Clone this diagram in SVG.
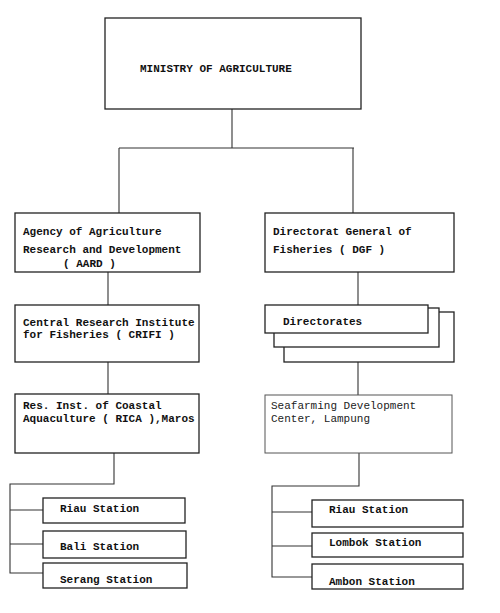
<svg xmlns="http://www.w3.org/2000/svg" width="500" height="613" viewBox="0 0 500 613">
<style>
.b{fill:#fff;stroke:#222;stroke-width:1.3}
.c{fill:none;stroke:#333;stroke-width:1.1}
.t{font-family:"Liberation Mono","DejaVu Sans Mono",monospace;font-size:11px;font-weight:bold;fill:#111}
.l{font-family:"Liberation Mono","DejaVu Sans Mono",monospace;font-size:11px;fill:#222}
</style>
<rect width="500" height="613" fill="#fff"/>
<g id="connectors">
<path class="c" d="M232 109V148M119 148H354M119 148V213M353 148V213"/>
<path class="c" d="M108 272V305M108 362V394M358 272V305M358 362V395"/>
<path class="c" d="M114 453V484H10V573H43M10 510H43M10 544H43"/>
<path class="c" d="M359 453V486H272V577H312M272 512H312M272 546H312"/>
</g>
<g id="ministry"><rect class="b" x="105" y="18" width="256" height="91"/><text class="t" x="140" y="72">MINISTRY OF AGRICULTURE</text></g>
<g id="aard"><rect class="b" x="15" y="213" width="185" height="59"/><text class="t" x="23" y="235">Agency of Agriculture</text><text class="t" x="23" y="253">Research and Development</text><text class="t" x="63" y="267">( AARD )</text></g>
<g id="dgf"><rect class="b" x="265" y="213" width="189" height="59"/><text class="t" x="273" y="235">Directorat General of</text><text class="t" x="273" y="253">Fisheries ( DGF )</text></g>
<g id="crifi"><rect class="b" x="15" y="305" width="184" height="57"/><text class="t" x="23" y="326">Central Research Institute</text><text class="t" x="23" y="338">for Fisheries ( CRIFI )</text></g>
<g id="directorates"><rect class="b" x="284" y="312" width="170" height="50"/><rect class="b" x="274" y="308" width="165" height="39"/><rect class="b" x="265" y="305" width="163" height="28"/><text class="t" x="283" y="325">Directorates</text></g>
<g id="rica"><rect class="b" x="15" y="394" width="184" height="59"/><text class="t" x="23" y="409">Res. Inst. of Coastal</text><text class="t" x="23" y="422">Aquaculture ( RICA ),Maros</text></g>
<g id="seafarming"><rect class="b" x="265" y="395" width="187" height="58" style="stroke:#555;stroke-width:1"/><text class="l" x="271" y="409">Seafarming Development</text><text class="l" x="271" y="422">Center, Lampung</text></g>
<g id="riau1"><rect class="b" x="43" y="498" width="142" height="25"/><text class="t" x="60" y="512">Riau Station</text></g>
<g id="bali"><rect class="b" x="43" y="531" width="143" height="27"/><text class="t" x="60" y="550">Bali Station</text></g>
<g id="serang"><rect class="b" x="43" y="563" width="144" height="25"/><text class="t" x="60" y="583">Serang Station</text></g>
<g id="riau2"><rect class="b" x="312" y="500" width="151" height="27"/><text class="t" x="329" y="513">Riau Station</text></g>
<g id="lombok"><rect class="b" x="312" y="533" width="151" height="24"/><text class="t" x="329" y="546">Lombok Station</text></g>
<g id="ambon"><rect class="b" x="312" y="564" width="151" height="25"/><text class="t" x="329" y="585">Ambon Station</text></g>
</svg>
